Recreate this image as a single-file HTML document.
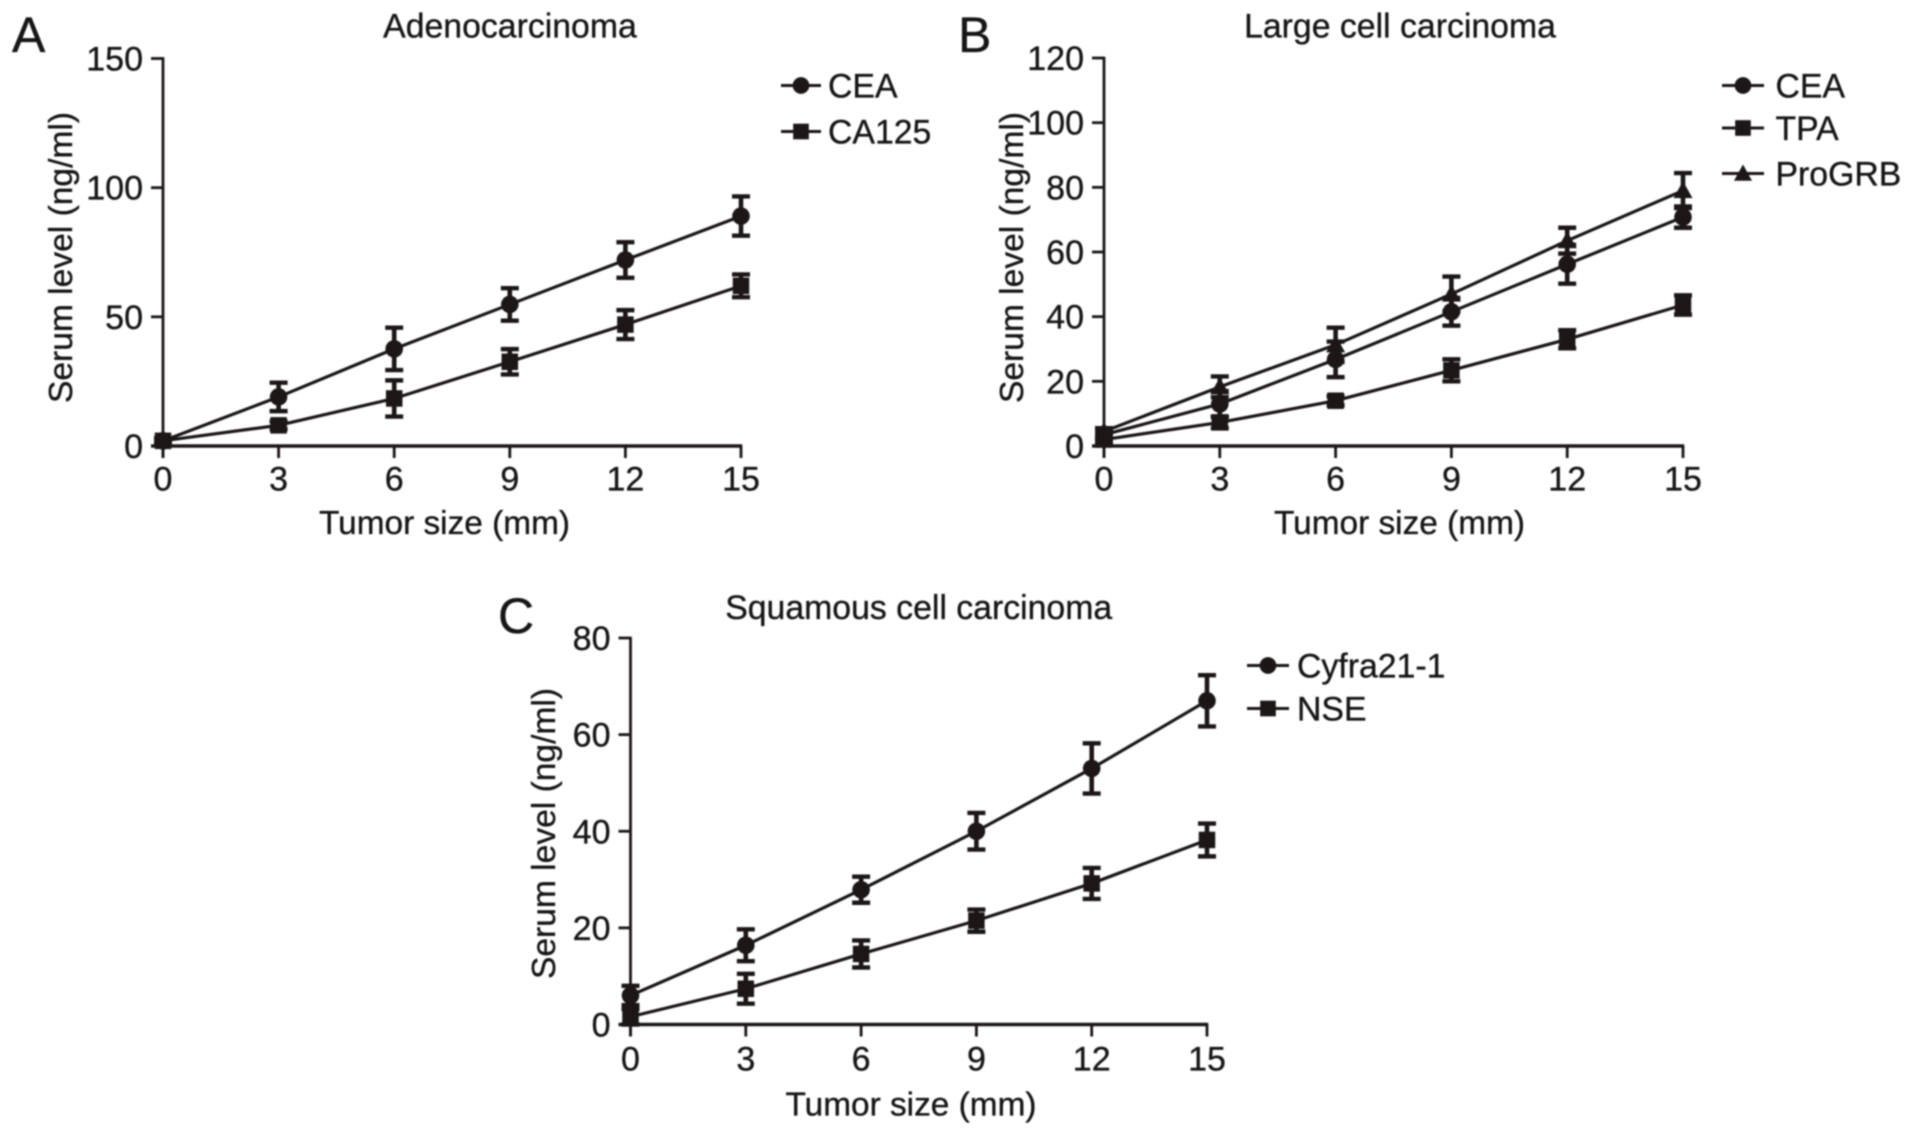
<!DOCTYPE html>
<html lang="en">
<head>
<meta charset="utf-8">
<title>Serum level vs tumor size</title>
<style>
  html, body { margin: 0; padding: 0; background: #fff; }
  body { width: 1913px; height: 1136px; overflow: hidden; }
  svg { display: block; }
  text { font-family: "Liberation Sans", Arial, sans-serif; fill: #151314; stroke: #151314; stroke-width: 0.35; }
</style>
</head>
<body>
<svg id="figure" xmlns="http://www.w3.org/2000/svg" width="1913" height="1136" viewBox="0 0 1913 1136">
  <defs>
    <filter id="soft" x="-5%" y="-5%" width="110%" height="110%"><feGaussianBlur stdDeviation="0.75"/></filter>
  </defs>
  <g id="root" filter="url(#soft)"></g>
</svg>
<script>
// Shared axis categories
const tumorSizes = [0, 3, 6, 9, 12, 15];
const xTickLabels = ["0", "3", "6", "9", "12", "15"];

// Panel A
const aYTicks = [0, 50, 100, 150];
const aCeaValues = [2, 19, 37.6, 54.8, 72, 89];
const aCeaErrors = [1, 5.5, 8.2, 6.3, 6.9, 7.6];
const aCa125Values = [2, 8, 18.4, 32.6, 47, 62];
const aCa125Errors = [1, 1.5, 7, 4.9, 5.6, 4.4];

// Panel B
const bYTicks = [0, 20, 40, 60, 80, 100, 120];
const bCeaValues = [3.5, 13, 26.8, 41.5, 56.2, 70.8];
const bCeaErrors = [1.5, 4, 5.5, 4.3, 6, 3.3];
const bTpaValues = [2, 7.3, 14, 23.4, 33, 43.6];
const bTpaErrors = [1, 1.8, 1.4, 3.4, 2.8, 3];
const bProgrbValues = [4.5, 18.3, 31.3, 47, 63.5, 79];
const bProgrbErrors = [1, 3.2, 5.3, 5.4, 4, 5.4];

// Panel C
const cYTicks = [0, 20, 40, 60, 80];
const cCyfraValues = [6, 16.4, 27.9, 40, 53, 67];
const cCyfraErrors = [2, 3.3, 2.7, 3.8, 5.2, 5.3];
const cNseValues = [1.6, 7.4, 14.6, 21.5, 29.2, 38.2];
const cNseErrors = [1.6, 3.1, 2.8, 2.3, 3.2, 3.4];

const panels = [
  {
    id: "a", letter: "A", letterX: 12, letterY: 52, title: "Adenocarcinoma", titleX: 510, titleY: 37.5,
    x0: 163, x1: 741, y0: 446, y1: 58.5, yMax: 150, yTicks: aYTicks,
    xLabelX: 444.5, xLabelY: 534, xTickY: 490.5, yLabelX: 72, yLabelY: 257.5,
    legendLineX: 781, legendLineEnd: 821, legendTextX: 828,
    series: [
      { name: "CEA", marker: "circle", values: aCeaValues, errors: aCeaErrors, legendY: 85.5 },
      { name: "CA125", marker: "square", values: aCa125Values, errors: aCa125Errors, legendY: 131.5 }
    ]
  },
  {
    id: "b", letter: "B", letterX: 958, letterY: 52, title: "Large cell carcinoma", titleX: 1400, titleY: 37.5,
    x0: 1104, x1: 1683, y0: 446, y1: 58, yMax: 120, yTicks: bYTicks,
    xLabelX: 1399.5, xLabelY: 534, xTickY: 490.5, yLabelX: 1023, yLabelY: 257.5,
    legendLineX: 1722, legendLineEnd: 1764, legendTextX: 1775.5,
    series: [
      { name: "CEA", marker: "circle", values: bCeaValues, errors: bCeaErrors, legendY: 85.5 },
      { name: "TPA", marker: "square", values: bTpaValues, errors: bTpaErrors, legendY: 128 },
      { name: "ProGRB", marker: "triangle", values: bProgrbValues, errors: bProgrbErrors, legendY: 173.5 }
    ]
  },
  {
    id: "c", letter: "C", letterX: 498, letterY: 633, title: "Squamous cell carcinoma", titleX: 918.7, titleY: 619,
    x0: 630.5, x1: 1207, y0: 1024.5, y1: 638, yMax: 80, yTicks: cYTicks,
    xLabelX: 911, xLabelY: 1115.5, xTickY: 1070.5, yLabelX: 555, yLabelY: 833.5,
    legendLineX: 1247, legendLineEnd: 1289, legendTextX: 1297,
    series: [
      { name: "Cyfra21-1", marker: "circle", values: cCyfraValues, errors: cCyfraErrors, legendY: 665.5 },
      { name: "NSE", marker: "square", values: cNseValues, errors: cNseErrors, legendY: 708.5 }
    ]
  }
];

const SVG_NS = "http://www.w3.org/2000/svg";
const INK = "#1a1819";
const root = document.getElementById("root");

function make(tag, parent, attrs, name) {
  const node = document.createElementNS(SVG_NS, tag);
  for (const key in attrs) node.setAttribute(key, attrs[key]);
  
  
  parent.appendChild(node);
  return node;
}

function seg(parent, x1, y1, x2, y2, width, name) {
  return make("line", parent, { x1: x1, y1: y1, x2: x2, y2: y2, stroke: INK, "stroke-width": width }, name);
}

function label(parent, str, x, y, size, anchor, name) {
  const t = make("text", parent, { x: x, y: y, "font-size": size, "text-anchor": anchor }, name);
  t.textContent = str;
  return t;
}

function marker(parent, kind, cx, cy, scale, name) {
  if (kind === "circle") {
    return make("circle", parent, { cx: cx, cy: cy, r: 8.8 * scale, fill: INK }, name);
  }
  if (kind === "square") {
    const s = 16.5 * scale;
    return make("rect", parent, { x: cx - s / 2, y: cy - s / 2, width: s, height: s, fill: INK }, name);
  }
  const h = 9.5 * scale;
  const pts = (cx - h) + "," + (cy + h * 0.8) + " " + (cx + h) + "," + (cy + h * 0.8) + " " + cx + "," + (cy - h);
  return make("polygon", parent, { points: pts, fill: INK }, name);
}

function drawPanel(p) {
  const g = make("g", root, {}, "panel-" + p.id);
  const sx = function (v) { return p.x0 + (v - tumorSizes[0]) / (tumorSizes[tumorSizes.length - 1] - tumorSizes[0]) * (p.x1 - p.x0); };
  const sy = function (v) { return p.y0 + v / p.yMax * (p.y1 - p.y0); };

  label(g, p.letter, p.letterX, p.letterY, 50, "start", "panel-letter-" + p.id);
  label(g, p.title, p.titleX, p.titleY, 33.8, "middle", "chart-title-" + p.id);

  // Axes
  seg(g, p.x0, p.y1 - 1.2, p.x0, p.y0 + 12, 2.8, "y-axis-" + p.id);
  seg(g, p.x0 - 12, p.y0, p.x1 + 1.2, p.y0, 3.6, "x-axis-" + p.id);

  p.yTicks.forEach(function (v) {
    seg(g, p.x0 - 12, sy(v), p.x0, sy(v), 2.8, "y-tick-" + v);
    label(g, String(v), p.x0 - 20, sy(v) + 12, 34, "end", "y-tick-label-" + v);
  });
  tumorSizes.forEach(function (v, i) {
    seg(g, sx(v), p.y0, sx(v), p.y0 + 12, 2.8, "x-tick-" + v);
    label(g, xTickLabels[i], sx(v), p.xTickY, 34, "middle", "x-tick-label-" + v);
  });

  label(g, "Tumor size (mm)", p.xLabelX, p.xLabelY, 33.4, "middle", "x-axis-title-" + p.id);
  const yt = label(g, "Serum level (ng/ml)", p.yLabelX, p.yLabelY, 33.6, "middle", "y-axis-title-" + p.id);
  yt.setAttribute("transform", "rotate(-90 " + p.yLabelX + " " + p.yLabelY + ")");

  // Series
  p.series.forEach(function (s) {
    const sg = make("g", g, {}, "series-" + s.name.toLowerCase());
    const pts = s.values.map(function (v, i) { return sx(tumorSizes[i]) + "," + sy(v); }).join(" ");
    make("polyline", sg, { points: pts, fill: "none", stroke: INK, "stroke-width": 3.2 }, "line-" + s.name.toLowerCase());
    s.values.forEach(function (v, i) {
      const x = sx(tumorSizes[i]);
      const top = sy(v + s.errors[i]);
      const bottom = sy(v - s.errors[i]);
      seg(sg, x, top, x, bottom, 4.6, "error-bar-" + tumorSizes[i]);
      seg(sg, x - 9, top, x + 9, top, 4.4, "error-cap-top-" + tumorSizes[i]);
      seg(sg, x - 9, bottom, x + 9, bottom, 4.4, "error-cap-bottom-" + tumorSizes[i]);
      marker(sg, s.marker, x, sy(v), 1, "point-" + tumorSizes[i]);
    });

    // Legend entry
    const lg = make("g", g, {}, "legend-entry-" + s.name.toLowerCase());
    seg(lg, p.legendLineX, s.legendY, p.legendLineEnd, s.legendY, 3, "legend-line");
    marker(lg, s.marker, (p.legendLineX + p.legendLineEnd) / 2, s.legendY, 0.95, "legend-marker");
    label(lg, s.name, p.legendTextX, s.legendY + 12, 33.8, "start", "legend-label");
  });
}

panels.forEach(drawPanel);
</script>
</body>
</html>
